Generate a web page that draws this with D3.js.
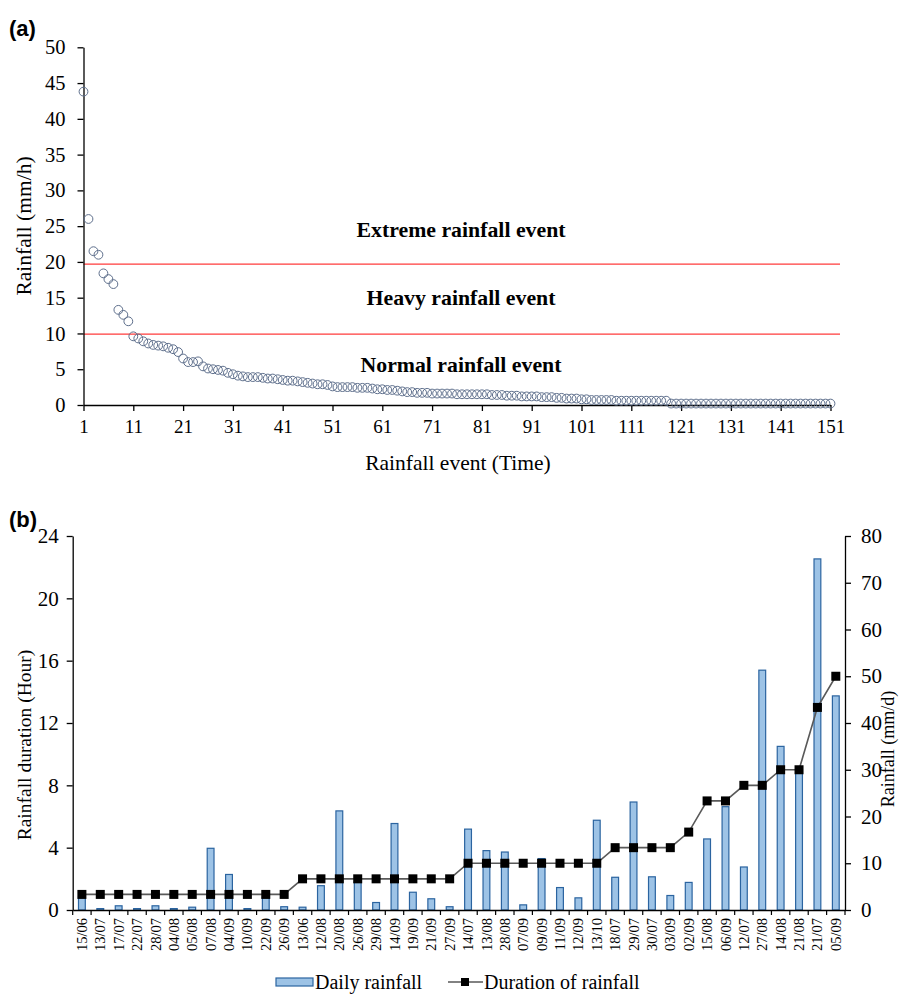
<!DOCTYPE html>
<html>
<head>
<meta charset="utf-8">
<script src="https://cdn.jsdelivr.net/npm/d3@7"></script>
<style>
  html, body { margin: 0; padding: 0; background: #fff; }
  svg { display: block; }
  svg text { font-family: "Liberation Serif", "Times New Roman", serif !important; fill: #000; }
  svg text.bold-sans { font-family: "Liberation Sans", Arial, sans-serif !important; }
</style>
</head>
<body>
<div id="chart"></div>
<script>
// ---------- Panel (a) data ----------
const eventRainfall = [
  43.8, 26.0, 21.5, 21.0, 18.4, 17.6, 16.9, 13.3, 12.6, 11.7,
  9.6, 9.3, 8.9, 8.6, 8.4, 8.3, 8.2, 8.0, 7.8, 7.4,
  6.5, 6.0, 6.0, 6.1, 5.4, 5.1, 5.0, 4.9, 4.8, 4.5,
  4.3, 4.1, 4.0, 3.9, 3.9, 3.9, 3.8, 3.7, 3.7, 3.6,
  3.5, 3.4, 3.4, 3.3, 3.2, 3.1, 3.0, 2.9, 2.9, 2.8,
  2.6, 2.5, 2.5, 2.5, 2.5, 2.4, 2.4, 2.4, 2.3, 2.2,
  2.2, 2.1, 2.1, 2.0, 1.9, 1.8, 1.8, 1.7, 1.7, 1.7,
  1.6, 1.6, 1.6, 1.6, 1.6, 1.5, 1.5, 1.5, 1.5, 1.5,
  1.5, 1.5, 1.4, 1.4, 1.4, 1.3, 1.3, 1.3, 1.2, 1.2,
  1.2, 1.2, 1.1, 1.1, 1.1, 1.0, 1.0, 0.9, 0.9, 0.9,
  0.8, 0.8, 0.7, 0.7, 0.7, 0.7, 0.7, 0.6, 0.6, 0.6,
  0.6, 0.6, 0.6, 0.6, 0.6, 0.6, 0.6, 0.6, 0.2, 0.2,
  0.2, 0.2, 0.2, 0.2, 0.2, 0.2, 0.2, 0.2, 0.2, 0.2,
  0.2, 0.2, 0.2, 0.2, 0.2, 0.2, 0.2, 0.2, 0.2, 0.2,
  0.2, 0.2, 0.2, 0.2, 0.2, 0.2, 0.2, 0.2, 0.2, 0.2,
  0.2
];
const eventTicks = [1, 11, 21, 31, 41, 51, 61, 71, 81, 91, 101, 111, 121, 131, 141, 151];
const rateTicks = [0, 5, 10, 15, 20, 25, 30, 35, 40, 45, 50];
const thresholds = [19.7, 9.9];
const zoneLabels = [
  { text: "Extreme rainfall event", value: 23.5 },
  { text: "Heavy rainfall event", value: 14.0 },
  { text: "Normal rainfall event", value: 4.6 }
];

// ---------- Panel (b) data ----------
const dates = ["15/06","13/07","17/07","22/07","28/07","04/08","05/08","07/08","04/09","10/09",
  "22/09","26/09","13/06","12/08","20/08","26/08","29/08","14/09","19/09","21/09",
  "27/09","14/07","13/08","28/08","07/09","09/09","11/09","12/09","13/10","18/07",
  "29/07","30/07","03/09","02/09","15/08","06/09","12/07","27/08","14/08","21/08",
  "21/07","05/09"];
const dailyRainfall = [2.8, 0.3, 0.9, 0.3, 0.9, 0.3, 0.6, 13.2, 7.6, 0.3,
  2.7, 0.7, 0.6, 5.2, 21.2, 6.0, 1.6, 18.5, 3.8, 2.4,
  0.7, 17.3, 12.7, 12.4, 1.1, 11.0, 4.8, 2.6, 19.2, 7.0,
  23.1, 7.1, 3.1, 5.9, 15.2, 22.1, 9.2, 51.3, 35.0, 30.0,
  75.1, 45.8];
const durationHours = [1,1,1,1,1,1,1,1,1,1,
  1,1,2,2,2,2,2,2,2,2,
  2,3,3,3,3,3,3,3,3,4,
  4,4,4,5,7,7,8,8,9,9,
  13,15];
const hourTicks = [0, 4, 8, 12, 16, 20, 24];
const mmTicks = [0, 10, 20, 30, 40, 50, 60, 70, 80];

// ---------- Drawing ----------
const W = 902, H = 995;
const svg = d3.select("#chart").append("svg").attr("width", W).attr("height", H);

function styleAxis(g, fs) {
  g.attr("font-family", null).attr("font-size", null);
  g.selectAll("path.domain").attr("stroke", "#000").attr("stroke-width", 1.3);
  g.selectAll(".tick line").attr("stroke", "#000").attr("stroke-width", 1.3);
  g.selectAll(".tick text").style("font-size", fs + "px").attr("fill", "#000");
}

// ===== Panel (a) =====
const xA = d3.scaleLinear().domain([1, 151]).range([83.5, 830.5]);
const yA = d3.scaleLinear().domain([0, 50]).range([405, 47.3]);

svg.append("text").attr("class", "bold-sans").attr("x", 9).attr("y", 36)
  .style("font-weight", "bold").style("font-size", "22px").text("(a)");

// threshold lines
svg.append("g").selectAll("line").data(thresholds).join("line")
  .attr("x1", xA(1)).attr("x2", 840)
  .attr("y1", d => yA(d)).attr("y2", d => yA(d))
  .attr("stroke", "#FF3B3B").attr("stroke-width", 1.3);

// zone labels
svg.append("g").selectAll("text").data(zoneLabels).join("text")
  .attr("x", 461).attr("y", d => yA(d.value))
  .attr("text-anchor", "middle")
  .style("font-weight", "bold").style("font-size", "21.8px")
  .text(d => d.text);

// axes
const gxA = svg.append("g").attr("transform", `translate(0,${yA(0)})`)
  .call(d3.axisBottom(xA).tickValues(eventTicks).tickSize(6).tickSizeOuter(0).tickFormat(d3.format("d")));
styleAxis(gxA, 19);
gxA.selectAll(".tick text").attr("y", 15);

const gyA = svg.append("g").attr("transform", `translate(${xA(1)},0)`)
  .call(d3.axisLeft(yA).tickValues(rateTicks).tickSize(6).tickSizeOuter(0));
styleAxis(gyA, 20.5);
gyA.selectAll(".tick text").attr("x", -18);

// points
svg.append("g").selectAll("circle").data(eventRainfall).join("circle")
  .attr("cx", (d, i) => xA(i + 1)).attr("cy", d => yA(d)).attr("r", 4.4)
  .attr("fill", "none").attr("stroke", "#5E6F8C").attr("stroke-width", 1);

svg.append("text").attr("x", 458).attr("y", 470).attr("text-anchor", "middle")
  .style("font-size", "21.5px").text("Rainfall event (Time)");
svg.append("text").attr("transform", `translate(31,226) rotate(-90)`)
  .attr("text-anchor", "middle").style("font-size", "21.5px").text("Rainfall (mm/h)");

// ===== Panel (b) =====
const xB = d3.scaleBand().domain(dates).range([72.7, 845]).padding(0);
const yL = d3.scaleLinear().domain([0, 24]).range([910, 536]);
const yR = d3.scaleLinear().domain([0, 80]).range([910, 536]);

svg.append("text").attr("class", "bold-sans").attr("x", 9).attr("y", 527)
  .style("font-weight", "bold").style("font-size", "22px").text("(b)");

// bars
const bw = xB.bandwidth() * 0.37;
svg.append("g").selectAll("rect").data(dailyRainfall).join("rect")
  .attr("x", (d, i) => xB(dates[i]) + xB.bandwidth() / 2 - bw / 2)
  .attr("y", d => yR(d)).attr("width", bw).attr("height", d => yR(0) - yR(d))
  .attr("fill", "#9DC3E6").attr("stroke", "#2B64A0").attr("stroke-width", 1.2);

// x axis with category labels
const gxB = svg.append("g").attr("transform", `translate(0,${yL(0)})`)
  .call(d3.axisBottom(xB).tickSize(0).tickSizeOuter(0));
styleAxis(gxB, 14.5);
gxB.selectAll(".tick text")
  .attr("transform", "rotate(-90)").attr("x", -8).attr("y", 0).attr("dy", "0.35em")
  .attr("text-anchor", "end");
// boundary ticks between categories
const bounds = dates.map(d => xB(d)).concat([xB.range()[1]]);
gxB.append("g").selectAll("line").data(bounds).join("line")
  .attr("x1", d => d).attr("x2", d => d).attr("y1", 0).attr("y2", 5)
  .attr("stroke", "#000").attr("stroke-width", 1.2);

const gyL = svg.append("g").attr("transform", `translate(72.7,0)`)
  .call(d3.axisLeft(yL).tickValues(hourTicks).tickSize(6).tickSizeOuter(0));
styleAxis(gyL, 21);
gyL.selectAll(".tick text").attr("x", -14);

const gyR = svg.append("g").attr("transform", `translate(845,0)`)
  .call(d3.axisRight(yR).tickValues(mmTicks).tickSize(6).tickSizeOuter(0));
styleAxis(gyR, 21);
gyR.selectAll(".tick text").attr("x", 16);

// duration line
const lineGen = d3.line()
  .x((d, i) => xB(dates[i]) + xB.bandwidth() / 2)
  .y(d => yL(d));
svg.append("path").datum(durationHours).attr("d", lineGen)
  .attr("fill", "none").attr("stroke", "#595959").attr("stroke-width", 1.6);
svg.append("g").selectAll("rect").data(durationHours).join("rect")
  .attr("x", (d, i) => xB(dates[i]) + xB.bandwidth() / 2 - 4.5)
  .attr("y", d => yL(d) - 4.5).attr("width", 9).attr("height", 9)
  .attr("fill", "#000");

svg.append("text").attr("transform", `translate(31,745) rotate(-90)`)
  .attr("text-anchor", "middle").style("font-size", "19.5px").text("Rainfall duration (Hour)");
svg.append("text").attr("transform", `translate(894,749) rotate(-90)`)
  .attr("text-anchor", "middle").style("font-size", "18px").text("Rainfall (mm/d)");

// legend
const lg = svg.append("g");
lg.append("rect").attr("x", 276).attr("y", 978).attr("width", 37).attr("height", 8)
  .attr("fill", "#9DC3E6").attr("stroke", "#2B64A0").attr("stroke-width", 1.2);
lg.append("text").attr("x", 315).attr("y", 989).style("font-size", "20px").text("Daily rainfall");
lg.append("line").attr("x1", 448).attr("x2", 483).attr("y1", 982).attr("y2", 982)
  .attr("stroke", "#595959").attr("stroke-width", 1.6);
lg.append("rect").attr("x", 461).attr("y", 978).attr("width", 8).attr("height", 8).attr("fill", "#000");
lg.append("text").attr("x", 484).attr("y", 989).style("font-size", "20px").text("Duration of rainfall");
</script>
</body>
</html>
